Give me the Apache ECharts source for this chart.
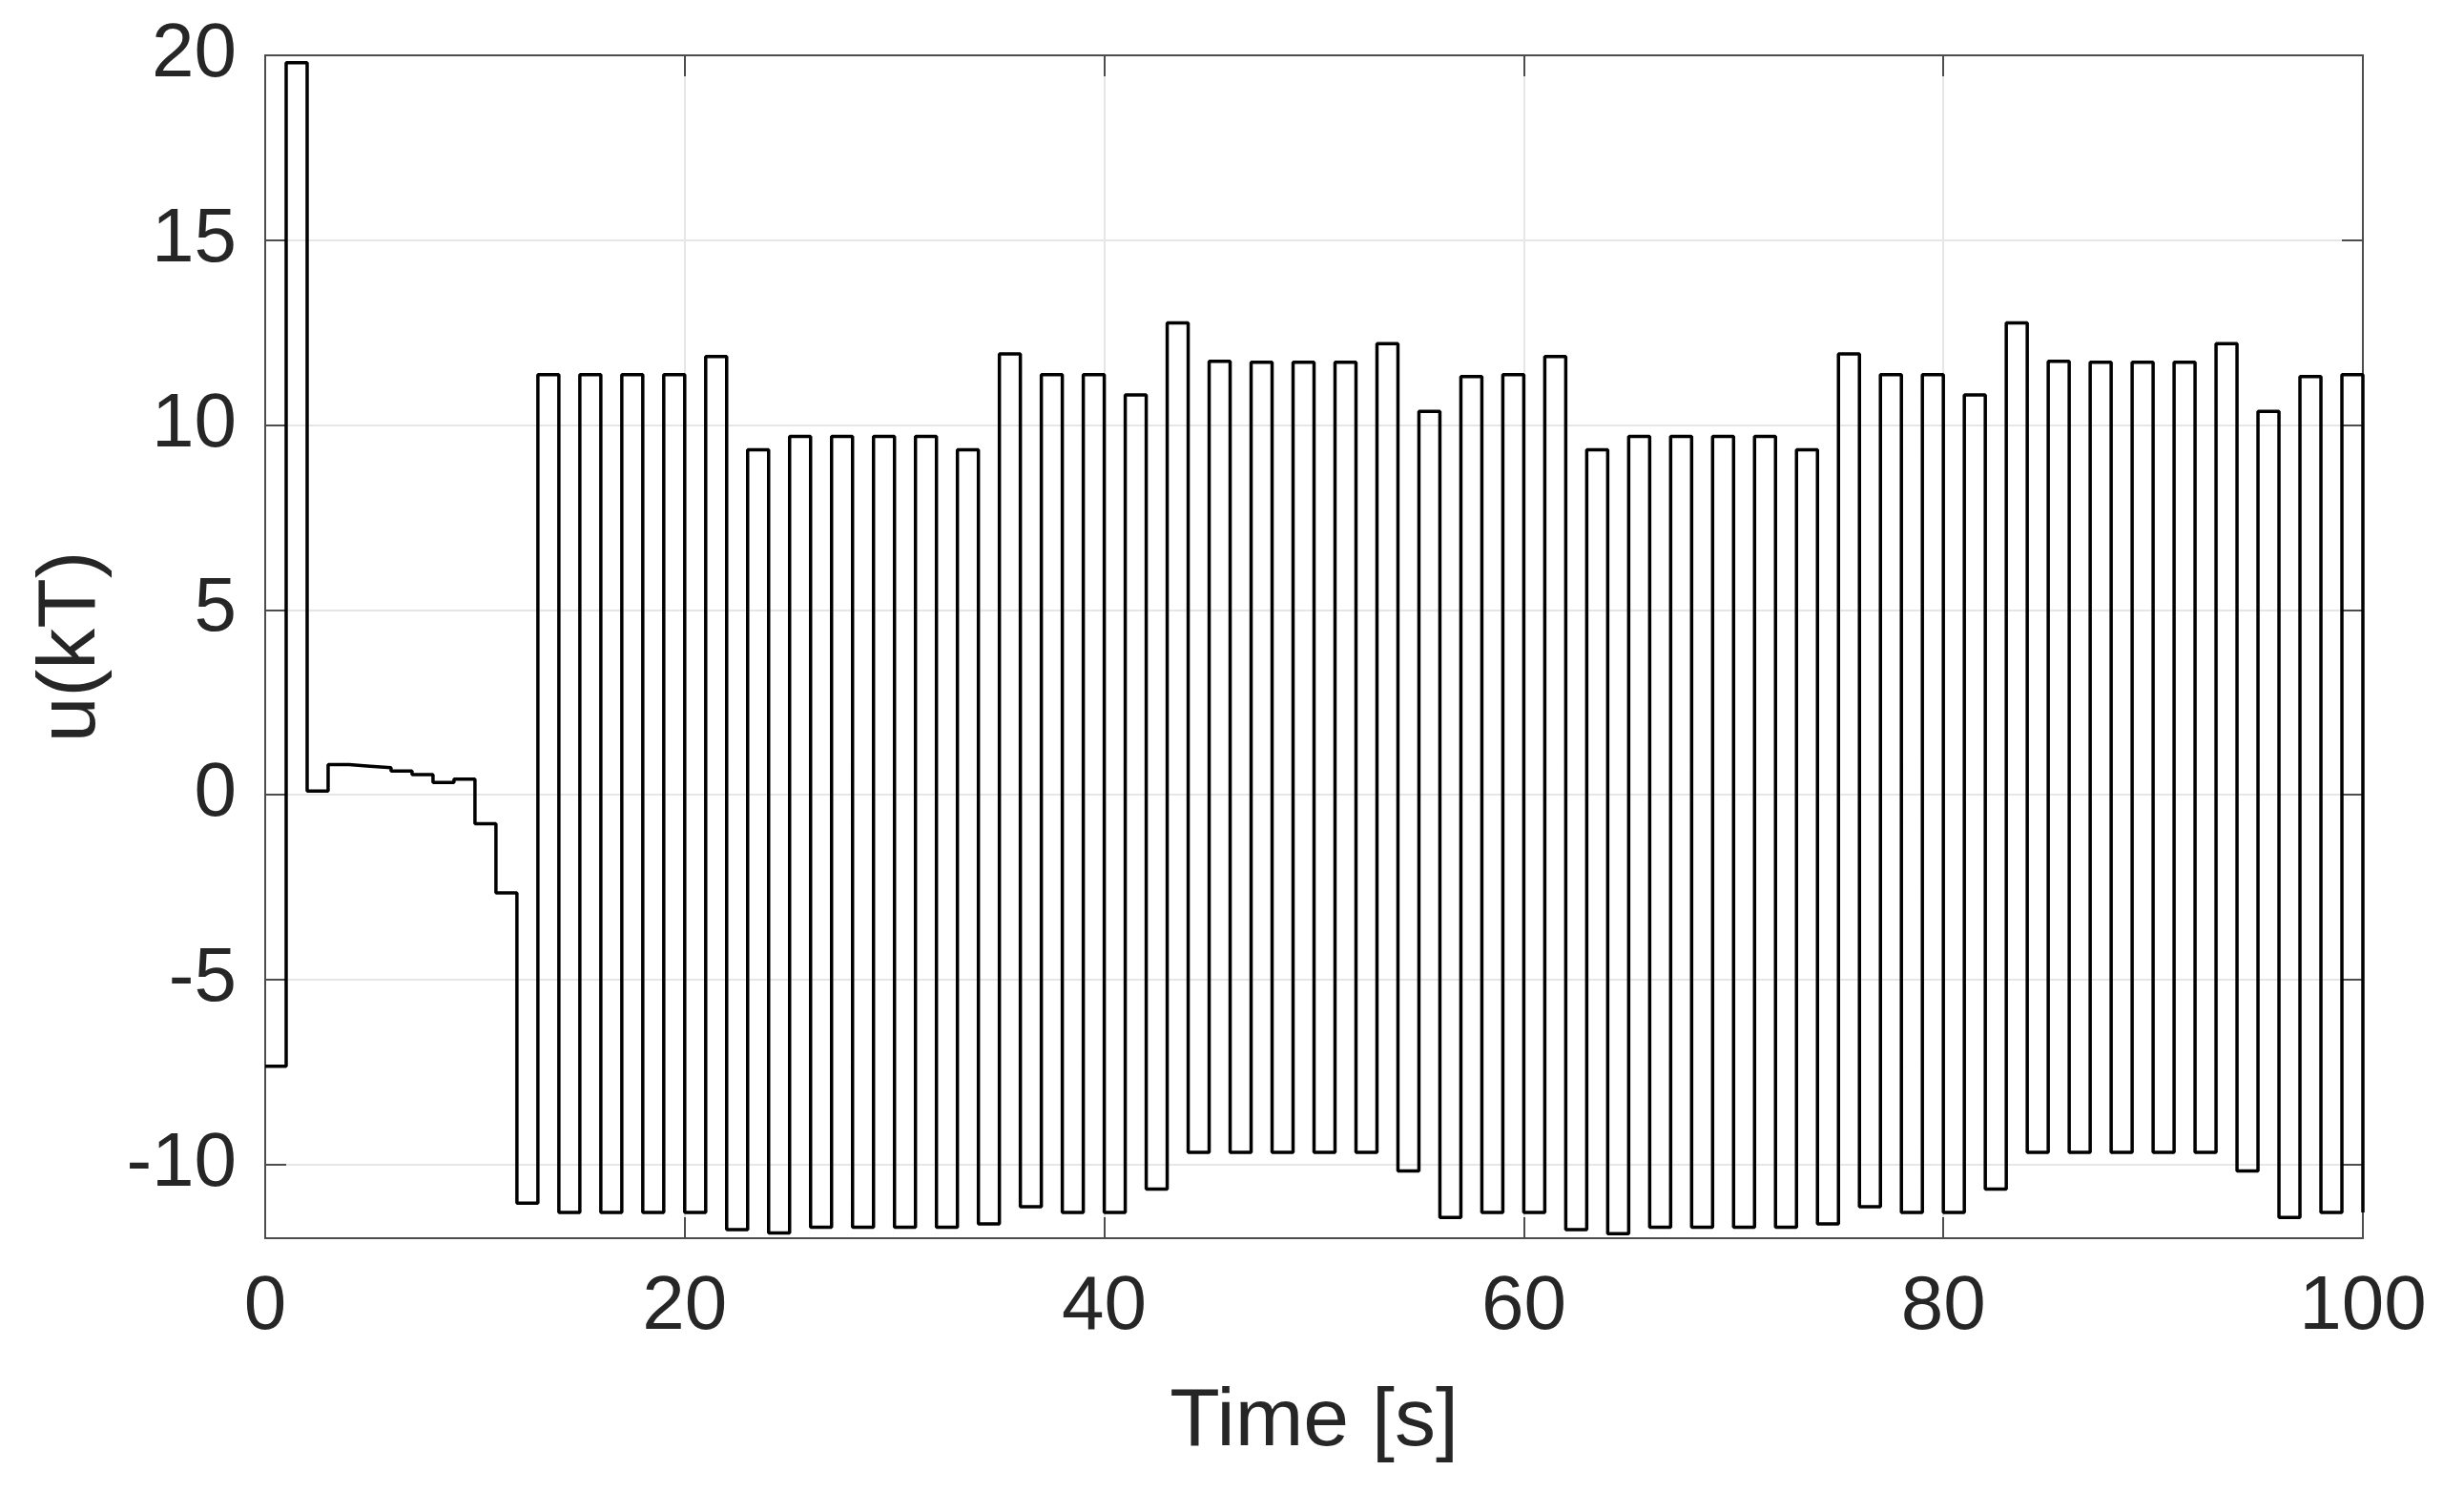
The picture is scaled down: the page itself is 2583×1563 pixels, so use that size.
<!DOCTYPE html>
<html>
<head>
<meta charset="utf-8">
<script src="https://cdn.jsdelivr.net/npm/echarts@6/dist/echarts.min.js"></script>
<style>
  html, body { margin: 0; padding: 0; background: #fff; }
  #chart { width: 2583px; height: 1563px; }
</style>
</head>
<body>
<div id="chart"></div>
<script>
// sample period [s]
var T = 1;
// u(kT), k = 0..100
var uStart = [-7.35, 19.8, 0.10, 0.81, 0.77, 0.73, 0.64, 0.54, 0.33, 0.42, -0.79, -2.66, -11.05];
var uMid = [
  11.36, -11.30, 11.36, -11.30, 11.36, -11.30, 11.36, -11.30,
  11.85, -11.77, 9.33, -11.86, 9.69, -11.70, 9.69, -11.70, 9.69, -11.70, 9.69, -11.70,
  9.33, -11.61, 11.92, -11.15, 11.36, -11.30, 11.36, -11.30,
  10.81, -10.67, 12.76, -9.68, 11.72, -9.68, 11.70, -9.68, 11.70, -9.68, 11.70, -9.68,
  12.20, -10.18, 10.37, -11.44, 11.31, -11.30, 11.36, -11.30
];
var uEnd = [
  11.85, -11.77, 9.33, -11.88, 9.69, -11.70, 9.69, -11.70, 9.69, -11.70, 9.69, -11.70,
  9.33, -11.61, 11.92, -11.15, 11.36, -11.30, 11.36, -11.30,
  10.81, -10.67, 12.76, -9.68, 11.72, -9.68, 11.70, -9.68, 11.70, -9.68, 11.70, -9.68,
  12.20, -10.18, 10.37, -11.44, 11.31, -11.30, 11.36, -11.30
];
var uValues = uStart.concat(uMid, uEnd);

var xMin = 0, xMax = 100;
var yMin = -12, yMax = 20;

var points = uValues.map(function (u, k) { return [k * T, u]; });

var txt = "#262626";
var axisCol = "#4d4d4d";
var font = "Liberation Sans, Arial, Helvetica, sans-serif";

function boxAxis(pos, isX) {
  var a = {
    type: "value",
    position: pos,
    min: isX ? xMin : yMin,
    max: isX ? xMax : yMax,
    axisLine: { show: true, onZero: false, lineStyle: { color: axisCol, width: 2 } },
    axisTick: { show: true, inside: true, length: 22, lineStyle: { color: axisCol, width: 2 } },
    axisLabel: { show: false },
    splitLine: { show: false }
  };
  if (isX) a.interval = 20;
  return a;
}

var xMain = boxAxis("bottom", true);
xMain.axisLabel = { show: true, color: txt, fontSize: 80, fontFamily: font, margin: 33 };
xMain.splitLine = { show: true, lineStyle: { color: "#e6e6e6", width: 2 } };
xMain.name = "Time [s]";
xMain.nameLocation = "middle";
xMain.nameGap = 150;
xMain.nameTextStyle = { color: txt, fontSize: 86, fontFamily: font };

var yMain = boxAxis("left", false);
yMain.axisLabel = { show: true, showMinLabel: false, color: txt, fontSize: 80, fontFamily: font, margin: 30 };
yMain.splitLine = { show: true, lineStyle: { color: "#e6e6e6", width: 2 } };
yMain.name = "u(kT)";
yMain.nameLocation = "middle";
yMain.nameRotate = 90;
yMain.nameGap = 160;
yMain.nameTextStyle = { color: txt, fontSize: 86, fontFamily: font };

var myChart = echarts.init(document.getElementById("chart"));
myChart.setOption({
  animation: false,
  backgroundColor: "#fff",
  grid: { left: 278, right: 106, top: 58, bottom: 265, outerBoundsMode: "none" },
  xAxis: [xMain, boxAxis("top", true)],
  yAxis: [yMain, boxAxis("right", false)],
  series: [
    {
      type: "line",
      xAxisIndex: 0,
      yAxisIndex: 0,
      data: points,
      step: "end",
      showSymbol: false,
      lineStyle: { color: "#000", width: 3.5 }
    }
  ]
});
</script>
</body>
</html>
